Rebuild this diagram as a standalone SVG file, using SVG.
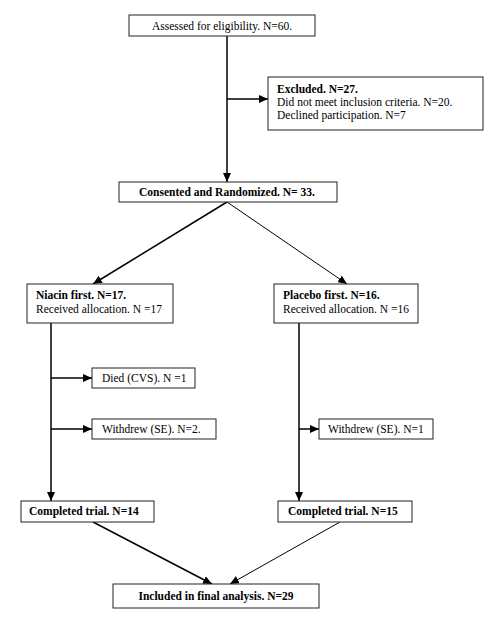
<svg xmlns="http://www.w3.org/2000/svg" width="500" height="644" viewBox="0 0 500 644">
<style>
.box{fill:#fff;stroke:#222;stroke-width:1}
.t{font-family:"Liberation Serif","Times New Roman",serif;font-size:11.5px;fill:#000}
.b{font-weight:bold}
.c{text-anchor:middle}
.thick{stroke:#000;stroke-width:1.5;fill:none}
.thin{stroke:#000;stroke-width:1;fill:none}
</style>
<defs>
<marker id="ah" markerUnits="userSpaceOnUse" markerWidth="10" markerHeight="8" refX="9" refY="4" orient="auto">
<path d="M0,0 L9,4 L0,8 Z" fill="#000"/>
</marker>
</defs>
<g id="connectors">
<line class="thick" x1="227" y1="36" x2="227" y2="182" marker-end="url(#ah)"/>
<line class="thick" x1="227" y1="99" x2="268" y2="99" marker-end="url(#ah)"/>
<line class="thick" x1="227" y1="202" x2="93" y2="284" marker-end="url(#ah)"/>
<line class="thin" x1="227" y1="202" x2="347" y2="284" marker-end="url(#ah)"/>
<line class="thick" x1="51" y1="323" x2="51" y2="501" marker-end="url(#ah)"/>
<line class="thick" x1="51" y1="378" x2="92" y2="378" marker-end="url(#ah)"/>
<line class="thick" x1="51" y1="429" x2="92" y2="429" marker-end="url(#ah)"/>
<line class="thick" x1="299" y1="323" x2="299" y2="501" marker-end="url(#ah)"/>
<line class="thick" x1="299" y1="429" x2="319" y2="429" marker-end="url(#ah)"/>
<line class="thick" x1="93" y1="522" x2="212" y2="584" marker-end="url(#ah)"/>
<line class="thin" x1="340" y1="522" x2="230" y2="584" marker-end="url(#ah)"/>
</g>
<g id="assessed">
<rect class="box" x="129" y="15" width="186" height="21"/>
<text class="t c" x="222" y="30">Assessed for eligibility. N=60.</text>
</g>
<g id="excluded">
<rect class="box" x="268" y="77" width="215" height="53"/>
<text class="t b" x="277" y="93">Excluded. N=27.</text>
<text class="t" x="277" y="106">Did not meet inclusion criteria. N=20.</text>
<text class="t" x="277" y="119">Declined participation. N=7</text>
</g>
<g id="randomized">
<rect class="box" x="119" y="182" width="218" height="20"/>
<text class="t b c" x="227" y="196">Consented and Randomized. N= 33.</text>
</g>
<g id="niacin">
<rect class="box" x="27" y="284" width="146" height="39"/>
<text class="t b" x="36" y="299">Niacin first. N=17.</text>
<text class="t" x="36" y="313">Received allocation. N =17</text>
</g>
<g id="placebo">
<rect class="box" x="274" y="284" width="144" height="39"/>
<text class="t b" x="283" y="299">Placebo first. N=16.</text>
<text class="t" x="283" y="313">Received allocation. N =16</text>
</g>
<g id="died">
<rect class="box" x="92" y="368" width="103" height="20"/>
<text class="t" x="102" y="382">Died (CVS). N =1</text>
</g>
<g id="withdrew-niacin">
<rect class="box" x="92" y="419" width="124" height="20"/>
<text class="t" x="102" y="433">Withdrew (SE). N=2.</text>
</g>
<g id="withdrew-placebo">
<rect class="box" x="319" y="419" width="114" height="20"/>
<text class="t" x="328" y="433">Withdrew (SE). N=1</text>
</g>
<g id="completed-niacin">
<rect class="box" x="21" y="501" width="133" height="21"/>
<text class="t b" x="29" y="515">Completed trial. N=14</text>
</g>
<g id="completed-placebo">
<rect class="box" x="278" y="501" width="134" height="21"/>
<text class="t b" x="288" y="515">Completed trial. N=15</text>
</g>
<g id="included">
<rect class="box" x="113" y="584" width="206" height="24"/>
<text class="t b c" x="216" y="600">Included in final analysis. N=29</text>
</g>
</svg>
